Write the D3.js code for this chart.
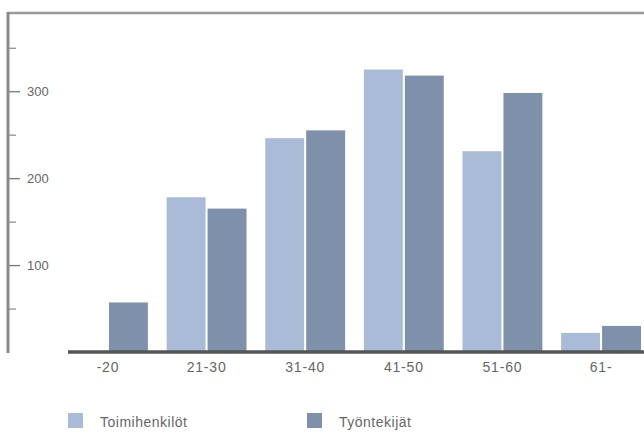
<!DOCTYPE html>
<html>
<head>
<meta charset="utf-8">
<script src="https://cdn.jsdelivr.net/npm/d3@7"></script>
<style>
  html, body { margin: 0; padding: 0; background: #fff; }
  svg { display: block; }
  text { font-family: "Liberation Sans", Arial, sans-serif; }
</style>
</head>
<body>
<svg id="chart" width="644" height="433"></svg>
<script>
// Age groups and head counts per staff type
const ageGroups = ["-20", "21-30", "31-40", "41-50", "51-60", "61-"];
const seriesNames = ["Toimihenkilöt", "Työntekijät"];
const toimihenkilot = [1, 178, 246, 325, 231, 22];
const tyontekijat = [57, 165, 255, 318, 298, 30];
const majorTicks = [100, 200, 300];
const minorTicks = [50, 150, 250, 350];

const colors = { "Toimihenkilöt": "#a9bbd6", "Työntekijät": "#7f90ab" };

const rows = ageGroups.map((g, i) => ({
  group: g,
  values: [
    { key: seriesNames[0], value: toimihenkilot[i] },
    { key: seriesNames[1], value: tyontekijat[i] }
  ]
}));

const svg = d3.select("#chart");

const y = d3.scaleLinear().domain([0, 390]).range([352, 13]);
const x0 = d3.scaleBand().domain(ageGroups).range([68, 641]).paddingInner(0.19).paddingOuter(0);
const x1 = d3.scaleBand().domain(seriesNames).range([0, x0.bandwidth()]).paddingInner(0.05);

// frame: top rule and left axis line
svg.append("line").attr("x1", 8).attr("x2", 644).attr("y1", 13).attr("y2", 13)
  .attr("stroke", "#9a9a9a").attr("stroke-width", 2.5);

// y axis with labelled and unlabelled ticks
const yAxis = svg.append("g").attr("transform", "translate(8,0)");
yAxis.call(d3.axisRight(y).tickValues(majorTicks).tickSize(12).tickPadding(7))
  .call(g => g.select(".domain").remove())
  .call(g => g.selectAll(".tick line").attr("stroke", "#777").attr("stroke-width", 1.3))
  .call(g => g.selectAll(".tick text").attr("fill", "#666").attr("font-size", 13));
svg.append("g").attr("transform", "translate(8,0)")
  .call(d3.axisRight(y).tickValues(minorTicks).tickSize(8).tickFormat(""))
  .call(g => g.select(".domain").remove())
  .call(g => g.selectAll(".tick line").attr("stroke", "#888").attr("stroke-width", 1.2));
svg.append("line").attr("x1", 8).attr("x2", 8).attr("y1", 12).attr("y2", 353)
  .attr("stroke", "#8a8a8a").attr("stroke-width", 3);

// bars
const groups = svg.append("g").selectAll("g").data(rows).join("g")
  .attr("transform", d => `translate(${x0(d.group)},0)`);
groups.selectAll("rect").data(d => d.values).join("rect")
  .attr("x", d => x1(d.key))
  .attr("width", x1.bandwidth())
  .attr("y", d => y(d.value))
  .attr("height", d => y(0) - y(d.value))
  .attr("fill", d => colors[d.key]);

// x axis baseline and category labels
const xAxis = svg.append("g").attr("transform", `translate(0,${y(0)})`);
xAxis.call(d3.axisBottom(x0).tickSize(0).tickPadding(10))
  .call(g => g.select(".domain").attr("d", "M68,0H644").attr("stroke", "#555").attr("stroke-width", 3.5))
  .call(g => g.selectAll(".tick text").attr("fill", "#666").attr("font-size", 14)
    .attr("letter-spacing", "0.8px"));

// legend
const legend = svg.append("g");
const legendX = [68, 307];
seriesNames.forEach((name, i) => {
  legend.append("rect").attr("x", legendX[i]).attr("y", 413).attr("width", 15).attr("height", 15)
    .attr("fill", colors[name]);
  legend.append("text").attr("x", legendX[i] + 32).attr("y", 427)
    .attr("font-size", 14).attr("letter-spacing", "0.5px").attr("fill", "#666").text(name);
});
</script>
</body>
</html>
